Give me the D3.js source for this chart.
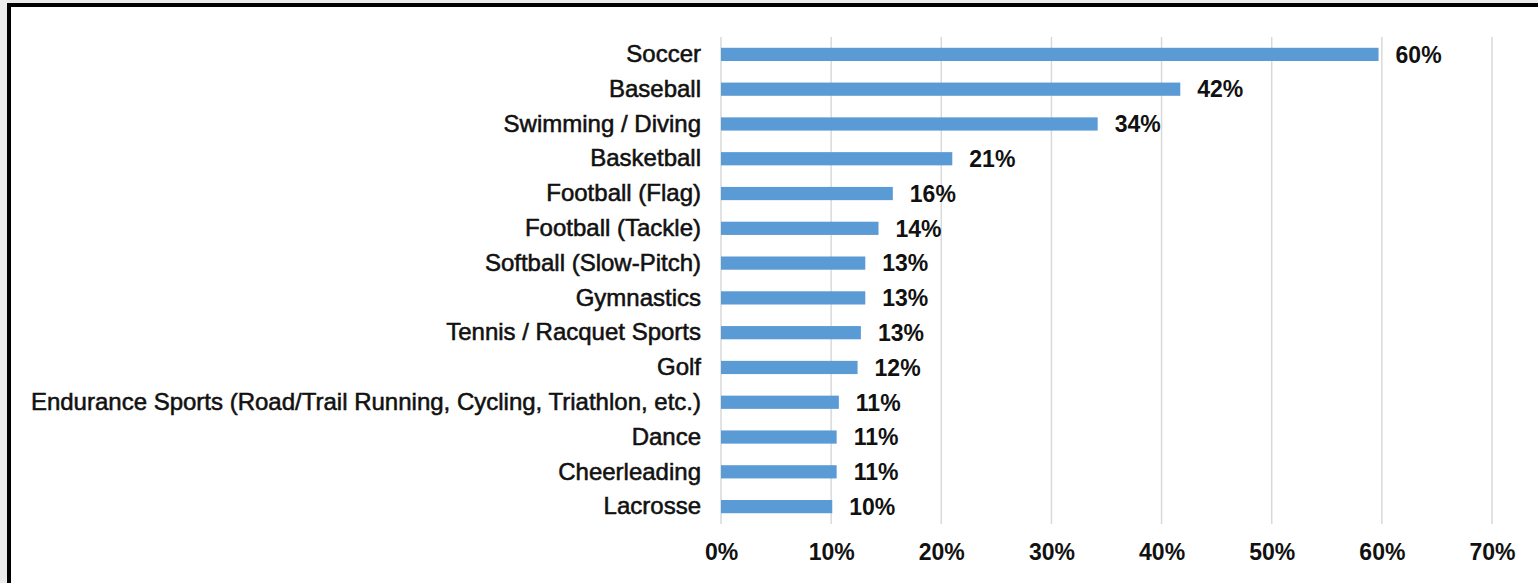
<!DOCTYPE html>
<html>
<head>
<meta charset="utf-8">
<script src="https://cdn.jsdelivr.net/npm/d3@7"></script>
<style>
  html, body { margin: 0; padding: 0; background: #ebebeb; }
  svg { display: block; }
  text { font-family: "Liberation Sans", Arial, sans-serif; fill: #111; }
</style>
</head>
<body>
<svg id="chart" width="1538" height="583"></svg>
<script>
// Share of respondents by sport
const categories = [
  "Soccer",
  "Baseball",
  "Swimming / Diving",
  "Basketball",
  "Football (Flag)",
  "Football (Tackle)",
  "Softball (Slow-Pitch)",
  "Gymnastics",
  "Tennis / Racquet Sports",
  "Golf",
  "Endurance Sports (Road/Trail Running, Cycling, Triathlon, etc.)",
  "Dance",
  "Cheerleading",
  "Lacrosse"
];
const values = [0.597, 0.417, 0.342, 0.210, 0.156, 0.143, 0.131, 0.131, 0.127, 0.124, 0.107, 0.105, 0.105, 0.101];
const tickValues = [0, 0.1, 0.2, 0.3, 0.4, 0.5, 0.6, 0.7];

const svg = d3.select("#chart");
const W = 1538, H = 583;

// framed white panel
svg.append("rect").attr("x", 9).attr("y", 5).attr("width", W + 10).attr("height", H + 10)
  .attr("fill", "#fff").attr("stroke", "#000").attr("stroke-width", 4);

const plot = { left: 721, right: 1492, top: 37, bottom: 524 };

const x = d3.scaleLinear().domain([0, 0.7]).range([plot.left, plot.right]);
const y = d3.scaleBand().domain(categories).range([plot.top, plot.bottom]).paddingInner(0.62).paddingOuter(0.31);

const pct = d3.format(".0%");

// vertical gridlines
svg.append("g").selectAll("line").data(tickValues).join("line")
  .attr("x1", d => x(d)).attr("x2", d => x(d))
  .attr("y1", plot.top).attr("y2", plot.bottom)
  .attr("stroke", "#d9d9d9").attr("stroke-width", 1.5);

// bars
svg.append("g").selectAll("rect").data(values).join("rect")
  .attr("x", x(0))
  .attr("y", (d, i) => y(categories[i]))
  .attr("width", d => x(d) - x(0))
  .attr("height", y.bandwidth())
  .attr("fill", "#5b9bd5");

// value labels
svg.append("g").selectAll("text").data(values).join("text")
  .attr("x", d => x(d) + 17)
  .attr("y", (d, i) => y(categories[i]) + y.bandwidth() / 2)
  .attr("dy", "0.36em")
  .attr("font-size", 23).attr("font-weight", "bold")
  .text(d => pct(d));

// category axis
const yAxis = d3.axisLeft(y).tickSize(0).tickPadding(20);
const gy = svg.append("g").attr("transform", `translate(${plot.left},0)`).call(yAxis);
gy.select(".domain").remove();
gy.selectAll("text")
  .attr("font-size", 24)
  .style("font-family", "'Liberation Sans', Arial, sans-serif")
  .attr("fill", "#111").attr("stroke", "#111").attr("stroke-width", 0.55);

// value axis
const xAxis = d3.axisBottom(x).tickValues(tickValues).tickFormat(pct).tickSize(0).tickPadding(20);
const gx = svg.append("g").attr("transform", `translate(0,${plot.bottom})`).call(xAxis);
gx.select(".domain").remove();
gx.selectAll("text")
  .attr("font-size", 23).attr("font-weight", "bold")
  .style("font-family", "'Liberation Sans', Arial, sans-serif")
  .attr("fill", "#111");
</script>
</body>
</html>
